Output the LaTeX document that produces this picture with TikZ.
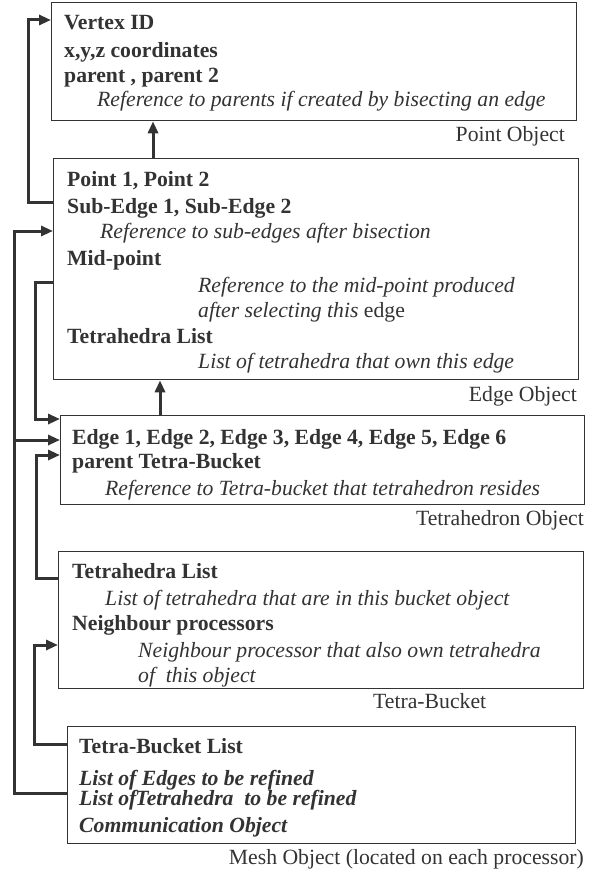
\documentclass[tikz,border=0pt]{standalone}
\usepackage{fontspec}
\setmainfont{Liberation Serif}
\usetikzlibrary{arrows.meta}
\definecolor{ink}{HTML}{333333}
\tikzset{
  box/.style={draw=ink, line width=1.3pt, anchor=north west, inner sep=0pt, fill=white},
  txt/.style={anchor=base west, inner sep=0pt, text=ink, font=\fontsize{21.7}{26}\selectfont},
  bf/.style={txt, font=\fontsize{21.7}{26}\selectfont\bfseries},
  it/.style={txt, font=\fontsize{21.7}{26}\selectfont\itshape},
  bi/.style={txt, font=\fontsize{21.7}{26}\selectfont\bfseries\itshape},
  lab/.style={txt, anchor=base east},
  conn/.style={draw=ink, line width=3pt},
  arr/.style={-{Triangle[length=12pt,width=10pt]}},
}
\begin{document}
\begin{tikzpicture}[x=1pt,y=-1pt]
\useasboundingbox (0,0) rectangle (592,869);
% boxes
\node[box, minimum width=525pt, minimum height=118pt] (pt) at (51,2) {};
\node[box, minimum width=525pt, minimum height=221pt] (eo) at (53,158) {};
\node[box, minimum width=524pt, minimum height=89pt]  (to) at (60,415) {};
\node[box, minimum width=525pt, minimum height=137pt] (bo) at (58,551) {};
\node[box, minimum width=508pt, minimum height=117pt] (mo) at (67,726) {};
% point object texts
\node[bf] (p1) at (64,30) {Vertex ID};
\node[bf] (p2) at (64,58) {x,y,z coordinates};
\node[bf] (p3) at (64,83) {parent , parent 2};
\node[it] (p4) at (97,107) {Reference to parents if created by bisecting an edge};
\node[lab] (pl) at (565,142) {Point Object};
% edge object texts
\node[bf] (e1) at (67,186) {Point 1, Point 2};
\node[bf] (e2) at (67,213) {Sub-Edge 1, Sub-Edge 2};
\node[it] (e3) at (100,238) {Reference to sub-edges after bisection};
\node[bf] (e4) at (67,265) {Mid-point};
\node[it] (e5) at (198,292) {Reference to the mid-point produced};
\node[it] (e6) at (198,317) {after selecting this {\upshape edge}};
\node[bf] (e7) at (67,343) {Tetrahedra List};
\node[it] (e8) at (198,368) {List of tetrahedra that own this edge};
\node[lab] (el) at (577,401) {Edge Object};
% tetrahedron object texts
\node[bf] (t1) at (72,444) {Edge 1, Edge 2, Edge 3, Edge 4, Edge 5, Edge 6};
\node[bf] (t2) at (72,468) {parent Tetra-Bucket};
\node[it] (t3) at (105,495) {Reference to Tetra-bucket that tetrahedron resides};
\node[lab] (tl) at (584,525) {Tetrahedron Object};
% tetra-bucket texts
\node[bf] (b1) at (72,578) {Tetrahedra List};
\node[it] (b2) at (105,605) {List of tetrahedra that are in this bucket object};
\node[bf] (b3) at (72,630) {Neighbour processors};
\node[it] (b4) at (138,657) {Neighbour processor that also own tetrahedra};
\node[it] (b5) at (138,682) {of~ this object};
\node[txt] (bl) at (373,708) {Tetra-Bucket};
% mesh object texts
\node[bf] (m1) at (79,753) {Tetra-Bucket List};
\node[bi] (m2) at (79,785) {List of Edges to be refined};
\node[bi] (m3) at (79,805) {List of\hspace{-1pt}Tetrahedra~ to be refined};
\node[bi] (m4) at (79,832) {Communication Object};
\node[lab] (ml) at (584,864) {Mesh Object (located on each processor)};
% connector coordinates
\coordinate (k1b) at (28,202);
\coordinate (k1t) at (28,20);
\coordinate (u1) at (153,0);
\coordinate (u2) at (160,0);
\coordinate (k2b) at (14,793);
\coordinate (k2t) at (14,231);
\coordinate (k2m) at (14,440);
\coordinate (k3t) at (35,282);
\coordinate (k3b) at (35,419);
\coordinate (k4b) at (36,578);
\coordinate (k4t) at (36,455);
\coordinate (k5b) at (34,744);
\coordinate (k5t) at (34,645);
% connectors
\draw[conn,arr] (k1b -| eo.west) -- (k1b) -- (k1t) -- (k1t -| pt.west);
\draw[conn,arr] (u1 |- eo.north) -- (u1 |- pt.south);
\draw[conn,arr] (u2 |- to.north) -- (u2 |- eo.south);
\draw[conn,arr] (k2b -| mo.west) -- (k2b) -- (k2t) -- (k2t -| eo.west);
\draw[conn,arr] (k2m) -- (k2m -| to.west);
\draw[conn,arr] (k3t -| eo.west) -- (k3t) -- (k3b) -- (k3b -| to.west);
\draw[conn,arr] (k4b -| bo.west) -- (k4b) -- (k4t) -- (k4t -| to.west);
\draw[conn,arr] (k5b -| mo.west) -- (k5b) -- (k5t) -- (k5t -| bo.west);
\end{tikzpicture}
\end{document}
